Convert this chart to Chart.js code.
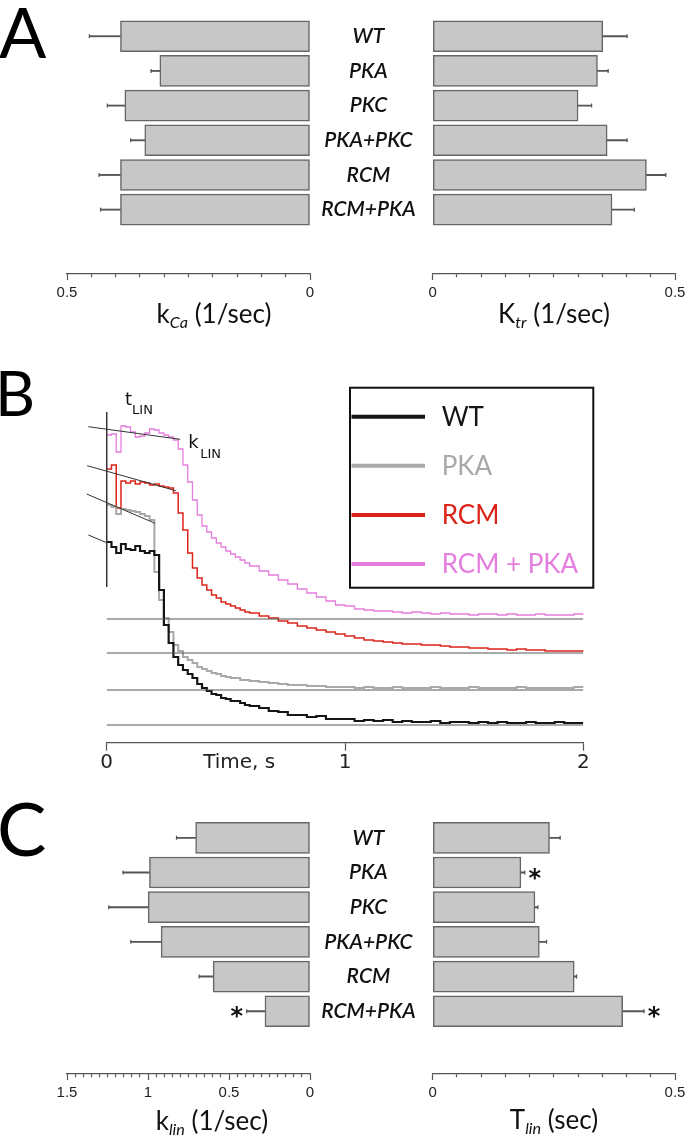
<!DOCTYPE html>
<html>
<head>
<meta charset="utf-8">
<script src="https://cdn.jsdelivr.net/npm/chart.js@4.4.1/dist/chart.umd.min.js"></script>
<style>
  html, body { margin: 0; padding: 0; background: #fff; }
  #fig { position: relative; width: 693px; height: 1141px; overflow: hidden; background: #fff; }
  #fig canvas { position: absolute; }
  .panel { position: absolute; font-family: Lato, sans-serif; line-height: 1; color: #000; }
  .title { position: absolute; font-family: Lato, sans-serif; font-size: 26px; line-height: 1; color: #111;
           white-space: nowrap; transform: translateX(-50%); }
  .title sub { font-size: 0.62em; font-style: italic; vertical-align: -0.3em; line-height: 0; }
</style>
</head>
<body>
<div id="fig">
  <canvas id="aLeft" width="330" height="310" style="left:0; top:0;"></canvas>
  <canvas id="aRight" width="393" height="310" style="left:300px; top:0;"></canvas>
  <canvas id="bTrace" width="693" height="410" style="left:0; top:370px;"></canvas>
  <canvas id="cLeft" width="330" height="311" style="left:0; top:800px;"></canvas>
  <canvas id="cRight" width="393" height="311" style="left:300px; top:800px;"></canvas>

  <div class="panel" style="left:-1px; top:-4px; font-size:70px;">A</div>
  <div class="panel" style="left:-5px; top:361px; font-size:62px;">B</div>
  <div class="panel" style="left:-3px; top:791px; font-size:74px;">C</div>

  <div class="title" style="left:214px; top:300px;">k<sub>Ca</sub> (1/sec)</div>
  <div class="title" style="left:554px; top:300px;">K<sub>tr</sub> (1/sec)</div>
  <div class="title" style="left:212px; top:1107px;">k<sub>lin</sub> (1/sec)</div>
  <div class="title" style="left:554px; top:1106px;">T<sub>lin</sub> (sec)</div>
</div>

<script>
// ---- panel A / C : group means and SEM ----
const groups = ['WT', 'PKA', 'PKC', 'PKA+PKC', 'RCM', 'RCM+PKA'];

const kCa    = [0.390, 0.309, 0.381, 0.340, 0.390, 0.390];
const kCaErr = [0.064, 0.018, 0.036, 0.029, 0.044, 0.041];

const ktr    = [0.351, 0.340, 0.300, 0.360, 0.441, 0.370];
const ktrErr = [0.050, 0.022, 0.028, 0.041, 0.040, 0.046];

const klin    = [0.706, 0.991, 0.999, 0.919, 0.598, 0.278];
const klinErr = [0.118, 0.163, 0.243, 0.187, 0.086, 0.113];
const klinSig = [false, false, false, false, false, true];

const tlin    = [0.241, 0.182, 0.211, 0.220, 0.292, 0.392];
const tlinErr = [0.022, 0.008, 0.006, 0.015, 0.005, 0.044];
const tlinSig = [false, true, false, false, false, true];

// ---- panel B : relaxation traces (force above each trace's baseline, a.u.) ----
const time = [0, 0.02, 0.04, 0.06, 0.08, 0.10, 0.12, 0.14, 0.16, 0.18, 0.20, 0.22, 0.24, 0.26, 0.28, 0.30,
  0.32, 0.34, 0.36, 0.38, 0.40, 0.42, 0.44, 0.46, 0.48, 0.50, 0.52, 0.54, 0.56, 0.58, 0.60,
  0.64, 0.68, 0.72, 0.76, 0.80, 0.84, 0.88, 0.92, 0.96, 1.00, 1.04, 1.08, 1.12, 1.16, 1.20,
  1.24, 1.28, 1.32, 1.36, 1.40, 1.44, 1.48, 1.52, 1.56, 1.60, 1.64, 1.68, 1.72, 1.76, 1.80,
  1.84, 1.88, 1.92, 1.96, 2.00];

const wtForce = [183, 178, 172, 181, 176, 175, 179, 174, 172, 174, 170, 135, 100, 82, 68, 60,
  55, 51, 47, 41, 37, 34, 31, 30, 27, 26, 24, 24, 22, 20, 19,
  17, 14, 13, 10, 10, 8, 9, 6, 6, 6, 4, 5, 4, 5, 3, 4, 3, 3, 4, 2, 3, 3, 2, 3, 2, 3, 2, 2, 3, 2, 2, 3, 2, 2, 2];
const pkaForce = [185, 183, 176, 181, 180, 179, 178, 176, 174, 170, 118, 90, 72, 58, 45, 39,
  33, 30, 27, 23, 21, 19, 17, 16, 14, 13, 12, 12, 10, 10, 9,
  8, 7, 6, 5, 5, 4, 4, 3, 3, 3, 2, 3, 2, 2, 3, 2, 2, 2, 3, 2, 2, 2, 3, 2, 2, 2, 2, 3, 2, 2, 2, 2, 2, 3, 2];
const rcmForce = [184, 188, 145, 172, 170, 172, 169, 171, 170, 168, 169, 167, 166, 165, 160, 140,
  123, 100, 85, 75, 68, 63, 58, 55, 51, 49, 47, 45, 43, 41, 40,
  37, 35, 32, 30, 27, 25, 23, 21, 19, 17, 15, 13, 12, 11, 10, 9, 9, 8, 8, 7, 6, 6, 5, 5, 4, 4, 3, 4, 3, 3, 2, 2, 2, 2, 1];
const rcmPkaForce = [184, 185, 167, 193, 192, 187, 182, 183, 186, 190, 189, 186, 184, 182, 179, 170,
  154, 137, 119, 104, 93, 87, 81, 76, 72, 68, 65, 62, 59, 56, 53,
  48, 44, 39, 35, 30, 26, 22, 18, 14, 13, 10, 9, 8, 8, 7, 6, 7, 6, 5, 6, 5, 5, 4, 5, 5, 4, 5, 4, 4, 5, 4, 4, 4, 5, 4];

const traceNames = ['WT', 'PKA', 'RCM', 'RCM + PKA'];
const baselines = [0, 35, 72, 106];
// linear fits of the plateau (start time, start force, end time, end force)
const fitT0 = [-0.077, -0.084, -0.082, -0.077];
const fitF0 = [190, 196, 187.3, 192.3];
const fitT1 = [0.0, 0.203, 0.29, 0.308];
const fitF1 = [182.3, 166.7, 162.3, 179.7];

const traceColors = ['#151515', '#a9a9a9', '#dc2318', '#e47ddd'];
const traceWidths = [2.2, 2, 1.5, 1.3];
const barFill = '#c7c7c7';
const barEdge = '#666';
const errColor = '#555';
const axisColor = '#555';

const isMajor = v => Math.abs(v * 2 - Math.round(v * 2)) < 1e-6;

function barPanel(id, cfg) {
  const vals = cfg.values, errs = cfg.errors;
  const dir = cfg.reverse ? -1 : 1;
  const starPlugin = {
    id: 'stars',
    afterDatasetsDraw(chart) {
      const xs = chart.scales.x, ys = chart.scales.y, ctx = chart.ctx;
      ctx.save();
      ctx.font = 'bold 24px "DejaVu Sans"';
      ctx.fillStyle = '#111';
      ctx.textAlign = 'center';
      ctx.textBaseline = 'alphabetic';
      (cfg.stars || []).forEach((s, i) => {
        if (!s) return;
        ctx.fillText('*', xs.getPixelForValue(vals[i] + errs[i]) + dir * 10, ys.getPixelForValue(i) + 13);
      });
      ctx.restore();
    }
  };

  return new Chart(document.getElementById(id), {
    type: 'bar',
    data: {
      datasets: [
        {
          data: vals.map((v, i) => ({ x: v, y: i })),
          backgroundColor: barFill, borderColor: barEdge, borderWidth: 1.5,
          borderSkipped: false, barThickness: 31
        },
        {
          grouped: false,
          data: vals.map((v, i) => ({ x: [v, v + errs[i]], y: i })),
          backgroundColor: errColor, borderWidth: 0, barThickness: 1.2
        },
        {
          type: 'scatter',
          data: vals.map((v, i) => ({ x: v + errs[i], y: i })),
          pointStyle: 'line', rotation: 90, radius: 2, borderColor: errColor, borderWidth: 1.2
        }
      ]
    },
    options: {
      indexAxis: 'y',
      responsive: false,
      animation: false,
      layout: { padding: cfg.padding },
      plugins: { legend: { display: false }, tooltip: { enabled: false } },
      scales: {
        x: {
          type: 'linear', min: 0, max: cfg.max, reverse: cfg.reverse,
          afterFit: s => { s.height = cfg.axisH; },
          border: { color: axisColor, width: 1.2 },
          grid: {
            drawOnChartArea: false, tickLength: 6, tickColor: axisColor, tickWidth: 1.2,
            tickBorderDash: c => (c.tick && isMajor(c.tick.value)) ? [] : [3, 20]
          },
          ticks: {
            stepSize: 0.05, autoSkip: false, maxRotation: 0, padding: 4, color: '#222',
            font: { family: 'Liberation Sans', size: 15 },
            callback: v => isMajor(v) ? String(Math.round(v * 10) / 10) : ''
          }
        },
        y: {
          type: 'linear', reverse: true, offset: false, min: -0.5, max: cfg.yMax, display: cfg.showGroups,
          afterBuildTicks: s => { s.ticks = groups.map((g, i) => ({ value: i })); },
          afterFit: s => { s.width = cfg.groupW || 0; s.paddingTop = 0; s.paddingBottom = 0; },
          grid: { display: false, drawTicks: false, offset: false },
          border: { display: false },
          ticks: {
            crossAlign: 'center', padding: 17, color: '#111',
            font: { family: 'Lato', size: 21, style: 'italic', weight: '600' },
            callback: v => groups[v]
          }
        }
      }
    },
    plugins: [starPlugin]
  });
}

barPanel('aLeft', {
  values: kCa, errors: kCaErr, max: 0.5, reverse: true, yMax: 6.856, axisH: 36,
  padding: { left: 67, right: 20, top: 18.9 }, showGroups: false
});
barPanel('aRight', {
  values: ktr, errors: ktrErr, max: 0.5, reverse: false, yMax: 6.856, axisH: 36,
  padding: { left: 0, right: 18, top: 18.9 }, showGroups: true, groupW: 132.7
});
barPanel('cLeft', {
  values: klin, errors: klinErr, stars: klinSig, max: 1.5, reverse: true, yMax: 6.81, axisH: 37,
  padding: { left: 67, right: 20, top: 20.5 }, showGroups: false
});
barPanel('cRight', {
  values: tlin, errors: tlinErr, stars: tlinSig, max: 0.5, reverse: false, yMax: 6.81, axisH: 37,
  padding: { left: 0, right: 18, top: 20.5 }, showGroups: true, groupW: 132.7
});

// ---- panel B ----
const forces = [wtForce, pkaForce, rcmForce, rcmPkaForce];

const traceSets = forces.map((f, k) => ({
  label: traceNames[k],
  data: time.map((t, i) => ({ x: t, y: baselines[k] + f[i] })),
  borderColor: traceColors[k], borderWidth: traceWidths[k],
  stepped: true, pointRadius: 0, fill: false
}));
const baseSets = baselines.map(b => ({
  data: [{ x: 0, y: b }, { x: 2, y: b }],
  borderColor: '#555', borderWidth: 1, pointRadius: 0
}));
const fitSets = baselines.map((b, k) => ({
  data: [{ x: fitT0[k], y: b + fitF0[k] }, { x: fitT1[k], y: b + fitF1[k] }],
  borderColor: '#333', borderWidth: 1, pointRadius: 0, clip: false
}));
const markSet = {
  data: [{ x: 0, y: 313 }, { x: 0, y: 138 }],
  borderColor: '#333', borderWidth: 1, pointRadius: 0, clip: false
};

const tracePlugin = {
  id: 'traceText',
  afterDatasetsDraw(chart) {
    const ctx = chart.ctx, xs = chart.scales.x, ys = chart.scales.y;
    ctx.save();
    // legend box
    ctx.lineWidth = 2;
    ctx.strokeStyle = '#111';
    ctx.strokeRect(350, 17.7, 243.3, 200);
    traceNames.forEach((name, i) => {
      const y = 46.7 + i * 49.1;
      ctx.strokeStyle = traceColors[i];
      ctx.lineWidth = 4;
      ctx.beginPath();
      ctx.moveTo(351.5, y);
      ctx.lineTo(425, y);
      ctx.stroke();
      ctx.fillStyle = traceColors[i];
      ctx.font = '26px Lato';
      ctx.textAlign = 'left';
      ctx.textBaseline = 'middle';
      ctx.fillText(name, 441.7, y + 1);
    });
    // axis caption between the ticks
    ctx.fillStyle = '#222';
    ctx.font = '20px "DejaVu Sans"';
    ctx.textAlign = 'center';
    ctx.textBaseline = 'middle';
    ctx.fillText('Time, s', xs.getPixelForValue(0.556), xs.top + 8 + 12);
    // t_LIN and k_LIN annotations
    ctx.textAlign = 'left';
    ctx.textBaseline = 'alphabetic';
    ctx.fillStyle = '#111';
    const tx = xs.getPixelForValue(0.077), ty = ys.getPixelForValue(320);
    ctx.font = '18px "DejaVu Sans"';
    ctx.fillText('t', tx, ty);
    ctx.font = '13px "DejaVu Sans"';
    ctx.fillText('LIN', tx + 7, ty + 8.5);
    const kx = xs.getPixelForValue(0.342), ky = ys.getPixelForValue(277);
    ctx.font = '18px "DejaVu Sans"';
    ctx.fillText('k', kx, ky);
    ctx.font = '13px "DejaVu Sans"';
    ctx.fillText('LIN', kx + 12, ky + 9.5);
    ctx.restore();
  }
};

new Chart(document.getElementById('bTrace'), {
  type: 'line',
  data: { datasets: [...baseSets, ...fitSets, markSet, ...traceSets] },
  options: {
    responsive: false,
    animation: false,
    layout: { padding: { left: 106.7, right: 109.7, top: 30 } },
    plugins: { legend: { display: false }, tooltip: { enabled: false } },
    elements: { line: { tension: 0 } },
    scales: {
      x: {
        type: 'linear', min: 0, max: 2,
        afterFit: s => { s.height = 37.3; },
        border: { color: axisColor, width: 1.2 },
        grid: { drawOnChartArea: false, tickLength: 8, tickColor: axisColor, tickWidth: 1.2 },
        ticks: {
          stepSize: 1, padding: 0, color: '#222', maxRotation: 0,
          font: { family: 'DejaVu Sans', size: 20 }
        }
      },
      y: { type: 'linear', min: -17.7, max: 325, display: false }
    }
  },
  plugins: [tracePlugin]
});
</script>
</body>
</html>
